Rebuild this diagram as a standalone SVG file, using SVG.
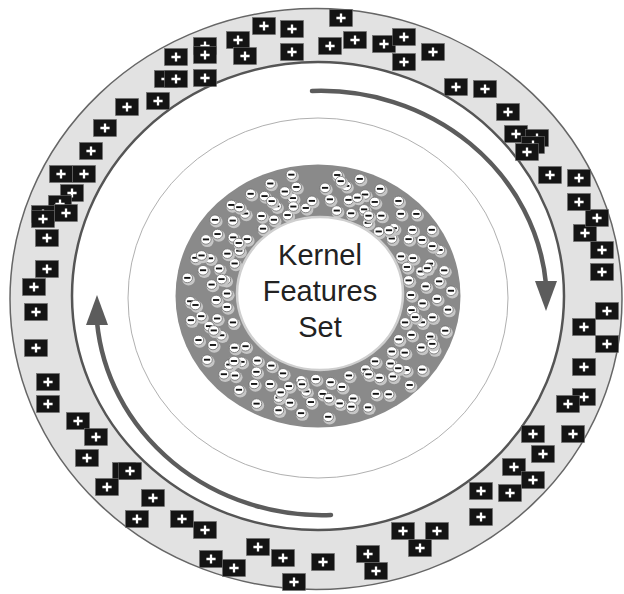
<svg xmlns="http://www.w3.org/2000/svg" xmlns:xlink="http://www.w3.org/1999/xlink" width="624" height="594" viewBox="0 0 624 594">
<style>
.lbl{font-family:"Liberation Sans","Open Sans",sans-serif;font-size:29px;fill:#222;text-anchor:middle}
.arc{fill:none;stroke:#5c5c5c;stroke-width:4.5;stroke-linecap:round}
.head{fill:#5c5c5c}
</style>
<defs>
<g id="p"><rect x="-11.5" y="-8.5" width="23" height="17" fill="#141414" stroke="#6e6e6e" stroke-width="0.6"/><path d="M-4.6 0H4.6M0-4.6V4.6" stroke="#fff" stroke-width="2.3"/></g>
<g id="m"><circle cx="1.3" cy="2" r="6.3" fill="#c6c6c6"/><circle r="5.2" fill="#fff" stroke="#6a6a6a" stroke-width="0.8"/><rect x="-3.1" y="-1" width="6.2" height="2" fill="#111"/></g>
<g id="arrow"><path class="arc" d="M312 91A226 212 0 0 1 546 284"/><polygon class="head" points="535,281 557,281 546,311"/></g>
</defs>
<rect width="624" height="594" fill="#fff"/>
<g id="outer-ring">
<ellipse cx="316" cy="299" rx="306" ry="290.5" fill="#e2e2e2" stroke="#666" stroke-width="1.5"/>
<ellipse cx="318" cy="296" rx="246" ry="234" fill="#fff" stroke="#555" stroke-width="2.5"/>
</g>
<g id="thin-ring"><ellipse cx="318" cy="298" rx="190" ry="180" fill="none" stroke="#b0b0b0" stroke-width="1"/></g>
<g id="connectors">
<use href="#arrow"/>
<use href="#arrow" transform="rotate(180 321.5 303)"/>
</g>
<g id="kernel-ring">
<ellipse cx="318" cy="296" rx="142.5" ry="131.5" fill="#8a8a8a"/>
<g transform="translate(319 295) scale(1 0.925)">
<use href="#m" transform="rotate(0)translate(92)rotate(0)"/>
<use href="#m" transform="rotate(10)translate(94)rotate(-10)"/>
<use href="#m" transform="rotate(19)translate(91)rotate(-19)"/>
<use href="#m" transform="rotate(31)translate(93)rotate(-31)"/>
<use href="#m" transform="rotate(40)translate(95)rotate(-40)"/>
<use href="#m" transform="rotate(52)translate(91)rotate(-52)"/>
<use href="#m" transform="rotate(60)translate(93)rotate(-60)"/>
<use href="#m" transform="rotate(71)translate(92)rotate(-71)"/>
<use href="#m" transform="rotate(83)translate(95)rotate(-83)"/>
<use href="#m" transform="rotate(92)translate(91)rotate(-92)"/>
<use href="#m" transform="rotate(101)translate(94)rotate(-101)"/>
<use href="#m" transform="rotate(113)translate(92)rotate(-113)"/>
<use href="#m" transform="rotate(122)translate(90)rotate(-122)"/>
<use href="#m" transform="rotate(131)translate(94)rotate(-131)"/>
<use href="#m" transform="rotate(143)translate(92)rotate(-143)"/>
<use href="#m" transform="rotate(161)translate(91)rotate(-161)"/>
<use href="#m" transform="rotate(172)translate(93)rotate(-172)"/>
<use href="#m" transform="rotate(181)translate(92)rotate(-181)"/>
<use href="#m" transform="rotate(190)translate(95)rotate(-190)"/>
<use href="#m" transform="rotate(202)translate(91)rotate(-202)"/>
<use href="#m" transform="rotate(211)translate(93)rotate(-211)"/>
<use href="#m" transform="rotate(220)translate(94)rotate(-220)"/>
<use href="#m" transform="rotate(232)translate(91)rotate(-232)"/>
<use href="#m" transform="rotate(241)translate(93)rotate(-241)"/>
<use href="#m" transform="rotate(250)translate(92)rotate(-250)"/>
<use href="#m" transform="rotate(262)translate(95)rotate(-262)"/>
<use href="#m" transform="rotate(281)translate(93)rotate(-281)"/>
<use href="#m" transform="rotate(290)translate(94)rotate(-290)"/>
<use href="#m" transform="rotate(302)translate(92)rotate(-302)"/>
<use href="#m" transform="rotate(311)translate(91)rotate(-311)"/>
<use href="#m" transform="rotate(320)translate(95)rotate(-320)"/>
<use href="#m" transform="rotate(333)translate(92)rotate(-333)"/>
<use href="#m" transform="rotate(341)translate(93)rotate(-341)"/>
<use href="#m" transform="rotate(350)translate(91)rotate(-350)"/>
<use href="#m" transform="rotate(5)translate(104)rotate(-5)"/>
<use href="#m" transform="rotate(16)translate(107)rotate(-16)"/>
<use href="#m" transform="rotate(25)translate(102)rotate(-25)"/>
<use href="#m" transform="rotate(36)translate(106)rotate(-36)"/>
<use href="#m" transform="rotate(46)translate(103)rotate(-46)"/>
<use href="#m" transform="rotate(56)translate(108)rotate(-56)"/>
<use href="#m" transform="rotate(77)translate(102)rotate(-77)"/>
<use href="#m" transform="rotate(88)translate(107)rotate(-88)"/>
<use href="#m" transform="rotate(97)translate(105)rotate(-97)"/>
<use href="#m" transform="rotate(107)translate(103)rotate(-107)"/>
<use href="#m" transform="rotate(117)translate(108)rotate(-117)"/>
<use href="#m" transform="rotate(127)translate(104)rotate(-127)"/>
<use href="#m" transform="rotate(137)translate(106)rotate(-137)"/>
<use href="#m" transform="rotate(146)translate(102)rotate(-146)"/>
<use href="#m" transform="rotate(156)translate(107)rotate(-156)"/>
<use href="#m" transform="rotate(166)translate(105)rotate(-166)"/>
<use href="#m" transform="rotate(177)translate(103)rotate(-177)"/>
<use href="#m" transform="rotate(186)translate(108)rotate(-186)"/>
<use href="#m" transform="rotate(196)translate(104)rotate(-196)"/>
<use href="#m" transform="rotate(206)translate(102)rotate(-206)"/>
<use href="#m" transform="rotate(216)translate(106)rotate(-216)"/>
<use href="#m" transform="rotate(236)translate(103)rotate(-236)"/>
<use href="#m" transform="rotate(246)translate(105)rotate(-246)"/>
<use href="#m" transform="rotate(256)translate(108)rotate(-256)"/>
<use href="#m" transform="rotate(266)translate(102)rotate(-266)"/>
<use href="#m" transform="rotate(276)translate(104)rotate(-276)"/>
<use href="#m" transform="rotate(286)translate(107)rotate(-286)"/>
<use href="#m" transform="rotate(296)translate(103)rotate(-296)"/>
<use href="#m" transform="rotate(306)translate(106)rotate(-306)"/>
<use href="#m" transform="rotate(316)translate(104)rotate(-316)"/>
<use href="#m" transform="rotate(326)translate(108)rotate(-326)"/>
<use href="#m" transform="rotate(337)translate(102)rotate(-337)"/>
<use href="#m" transform="rotate(346)translate(105)rotate(-346)"/>
<use href="#m" transform="rotate(355)translate(107)rotate(-355)"/>
<use href="#m" transform="rotate(2)translate(118)rotate(-2)"/>
<use href="#m" transform="rotate(12)translate(116)rotate(-12)"/>
<use href="#m" transform="rotate(22)translate(120)rotate(-22)"/>
<use href="#m" transform="rotate(29)translate(117)rotate(-29)"/>
<use href="#m" transform="rotate(43)translate(119)rotate(-43)"/>
<use href="#m" transform="rotate(50)translate(115)rotate(-50)"/>
<use href="#m" transform="rotate(62)translate(121)rotate(-62)"/>
<use href="#m" transform="rotate(73)translate(117)rotate(-73)"/>
<use href="#m" transform="rotate(80)translate(119)rotate(-80)"/>
<use href="#m" transform="rotate(94)translate(116)rotate(-94)"/>
<use href="#m" transform="rotate(104)translate(120)rotate(-104)"/>
<use href="#m" transform="rotate(110)translate(118)rotate(-110)"/>
<use href="#m" transform="rotate(124)translate(116)rotate(-124)"/>
<use href="#m" transform="rotate(134)translate(121)rotate(-134)"/>
<use href="#m" transform="rotate(140)translate(117)rotate(-140)"/>
<use href="#m" transform="rotate(153)translate(119)rotate(-153)"/>
<use href="#m" transform="rotate(163)translate(115)rotate(-163)"/>
<use href="#m" transform="rotate(169)translate(120)rotate(-169)"/>
<use href="#m" transform="rotate(193)translate(119)rotate(-193)"/>
<use href="#m" transform="rotate(200)translate(116)rotate(-200)"/>
<use href="#m" transform="rotate(213)translate(121)rotate(-213)"/>
<use href="#m" transform="rotate(223)translate(118)rotate(-223)"/>
<use href="#m" transform="rotate(230)translate(115)rotate(-230)"/>
<use href="#m" transform="rotate(243)translate(120)rotate(-243)"/>
<use href="#m" transform="rotate(253)translate(117)rotate(-253)"/>
<use href="#m" transform="rotate(259)translate(119)rotate(-259)"/>
<use href="#m" transform="rotate(273)translate(116)rotate(-273)"/>
<use href="#m" transform="rotate(283)translate(121)rotate(-283)"/>
<use href="#m" transform="rotate(293)translate(118)rotate(-293)"/>
<use href="#m" transform="rotate(299)translate(115)rotate(-299)"/>
<use href="#m" transform="rotate(313)translate(120)rotate(-313)"/>
<use href="#m" transform="rotate(323)translate(117)rotate(-323)"/>
<use href="#m" transform="rotate(330)translate(119)rotate(-330)"/>
<use href="#m" transform="rotate(343)translate(116)rotate(-343)"/>
<use href="#m" transform="rotate(353)translate(121)rotate(-353)"/>
<use href="#m" transform="rotate(7)translate(130)rotate(-7)"/>
<use href="#m" transform="rotate(17)translate(132)rotate(-17)"/>
<use href="#m" transform="rotate(27)translate(129)rotate(-27)"/>
<use href="#m" transform="rotate(38)translate(131)rotate(-38)"/>
<use href="#m" transform="rotate(47)translate(133)rotate(-47)"/>
<use href="#m" transform="rotate(57)translate(128)rotate(-57)"/>
<use href="#m" transform="rotate(68)translate(131)rotate(-68)"/>
<use href="#m" transform="rotate(86)translate(132)rotate(-86)"/>
<use href="#m" transform="rotate(98)translate(129)rotate(-98)"/>
<use href="#m" transform="rotate(108)translate(131)rotate(-108)"/>
<use href="#m" transform="rotate(118)translate(133)rotate(-118)"/>
<use href="#m" transform="rotate(128)translate(130)rotate(-128)"/>
<use href="#m" transform="rotate(138)translate(128)rotate(-138)"/>
<use href="#m" transform="rotate(148)translate(132)rotate(-148)"/>
<use href="#m" transform="rotate(158)translate(130)rotate(-158)"/>
<use href="#m" transform="rotate(168)translate(131)rotate(-168)"/>
<use href="#m" transform="rotate(177)translate(129)rotate(-177)"/>
<use href="#m" transform="rotate(188)translate(133)rotate(-188)"/>
<use href="#m" transform="rotate(198)translate(130)rotate(-198)"/>
<use href="#m" transform="rotate(208)translate(128)rotate(-208)"/>
<use href="#m" transform="rotate(218)translate(132)rotate(-218)"/>
<use href="#m" transform="rotate(228)translate(131)rotate(-228)"/>
<use href="#m" transform="rotate(238)translate(129)rotate(-238)"/>
<use href="#m" transform="rotate(248)translate(130)rotate(-248)"/>
<use href="#m" transform="rotate(258)translate(133)rotate(-258)"/>
<use href="#m" transform="rotate(278)translate(131)rotate(-278)"/>
<use href="#m" transform="rotate(288)translate(132)rotate(-288)"/>
<use href="#m" transform="rotate(298)translate(130)rotate(-298)"/>
<use href="#m" transform="rotate(308)translate(129)rotate(-308)"/>
<use href="#m" transform="rotate(318)translate(131)rotate(-318)"/>
<use href="#m" transform="rotate(328)translate(133)rotate(-328)"/>
<use href="#m" transform="rotate(338)translate(130)rotate(-338)"/>
<use href="#m" transform="rotate(348)translate(128)rotate(-348)"/>
<use href="#m" transform="rotate(358)translate(132)rotate(-358)"/>
<use href="#m" transform="rotate(14)translate(99)rotate(-14)"/>
<use href="#m" transform="rotate(45)translate(112)rotate(-45)"/>
<use href="#m" transform="rotate(75)translate(125)rotate(-75)"/>
<use href="#m" transform="rotate(100)translate(98)rotate(-100)"/>
<use href="#m" transform="rotate(140)translate(111)rotate(-140)"/>
<use href="#m" transform="rotate(175)translate(124)rotate(-175)"/>
<use href="#m" transform="rotate(215)translate(98)rotate(-215)"/>
<use href="#m" transform="rotate(245)translate(112)rotate(-245)"/>
<use href="#m" transform="rotate(280)translate(125)rotate(-280)"/>
<use href="#m" transform="rotate(315)translate(99)rotate(-315)"/>
<use href="#m" transform="rotate(345)translate(112)rotate(-345)"/>
<use href="#m" transform="rotate(25)translate(125)rotate(-25)"/>
<use href="#m" transform="rotate(60)translate(99)rotate(-60)"/>
<use href="#m" transform="rotate(160)translate(112)rotate(-160)"/>
<use href="#m" transform="rotate(200)translate(125)rotate(-200)"/>
<use href="#m" transform="rotate(255)translate(99)rotate(-255)"/>
<use href="#m" transform="rotate(290)translate(112)rotate(-290)"/>
<use href="#m" transform="rotate(335)translate(125)rotate(-335)"/>
<use href="#m" transform="rotate(110)translate(112)rotate(-110)"/>
<use href="#m" transform="rotate(190)translate(99)rotate(-190)"/>
<use href="#m" transform="rotate(230)translate(124)rotate(-230)"/>
<use href="#m" transform="rotate(300)translate(99)rotate(-300)"/>
<use href="#m" transform="rotate(85)translate(112)rotate(-85)"/>
</g>
<ellipse cx="320" cy="293.5" rx="83" ry="76.5" fill="#fff" stroke="#cfcfcf" stroke-width="2.5"/>
</g>
<g id="kernel-label">
<text class="lbl" x="320" y="265">Kernel</text>
<text class="lbl" x="320" y="301">Features</text>
<text class="lbl" x="320" y="337">Set</text>
</g>
<g id="plus-samples">
<use href="#p" x="341" y="18"/><use href="#p" x="264" y="26"/><use href="#p" x="292" y="29"/><use href="#p" x="238" y="40"/><use href="#p" x="245" y="56"/>
<use href="#p" x="205" y="46"/><use href="#p" x="205" y="55"/><use href="#p" x="176" y="57"/><use href="#p" x="292" y="52"/><use href="#p" x="330" y="46"/>
<use href="#p" x="355" y="40"/><use href="#p" x="384" y="44"/><use href="#p" x="404" y="37"/><use href="#p" x="404" y="62"/><use href="#p" x="433" y="52"/>
<use href="#p" x="166" y="79"/><use href="#p" x="176" y="79"/><use href="#p" x="205" y="78"/><use href="#p" x="158" y="101"/><use href="#p" x="127" y="107"/>
<use href="#p" x="105" y="128"/><use href="#p" x="91" y="151"/><use href="#p" x="61" y="174"/><use href="#p" x="84" y="174"/><use href="#p" x="72" y="193"/>
<use href="#p" x="60" y="204"/><use href="#p" x="66" y="213"/><use href="#p" x="43" y="214"/><use href="#p" x="43" y="219"/><use href="#p" x="47" y="238"/>
<use href="#p" x="47" y="269"/><use href="#p" x="34" y="287"/><use href="#p" x="36" y="312"/><use href="#p" x="36" y="348"/><use href="#p" x="48" y="382"/>
<use href="#p" x="48" y="404"/><use href="#p" x="78" y="421"/><use href="#p" x="96" y="437"/><use href="#p" x="87" y="458"/><use href="#p" x="124" y="471"/>
<use href="#p" x="130" y="471"/><use href="#p" x="107" y="487"/><use href="#p" x="153" y="498"/><use href="#p" x="137" y="519"/><use href="#p" x="182" y="519"/>
<use href="#p" x="205" y="530"/><use href="#p" x="258" y="547"/><use href="#p" x="211" y="559"/><use href="#p" x="234" y="568"/><use href="#p" x="283" y="558"/>
<use href="#p" x="294" y="582"/><use href="#p" x="323" y="562"/><use href="#p" x="368" y="554"/><use href="#p" x="376" y="571"/><use href="#p" x="403" y="531"/>
<use href="#p" x="437" y="531"/><use href="#p" x="420" y="548"/><use href="#p" x="481" y="491"/><use href="#p" x="510" y="493"/><use href="#p" x="481" y="517"/>
<use href="#p" x="514" y="467"/><use href="#p" x="533" y="480"/><use href="#p" x="533" y="434"/><use href="#p" x="573" y="434"/><use href="#p" x="543" y="454"/>
<use href="#p" x="584" y="397"/><use href="#p" x="568" y="404"/><use href="#p" x="584" y="367"/><use href="#p" x="607" y="344"/><use href="#p" x="584" y="327"/>
<use href="#p" x="607" y="311"/><use href="#p" x="602" y="272"/><use href="#p" x="602" y="250"/><use href="#p" x="585" y="233"/><use href="#p" x="597" y="218"/>
<use href="#p" x="579" y="202"/><use href="#p" x="579" y="178"/><use href="#p" x="550" y="175"/><use href="#p" x="516" y="134"/><use href="#p" x="537" y="138"/>
<use href="#p" x="533" y="145"/><use href="#p" x="527" y="152"/><use href="#p" x="508" y="112"/><use href="#p" x="456" y="87"/><use href="#p" x="485" y="89"/>
</g>
</svg>
